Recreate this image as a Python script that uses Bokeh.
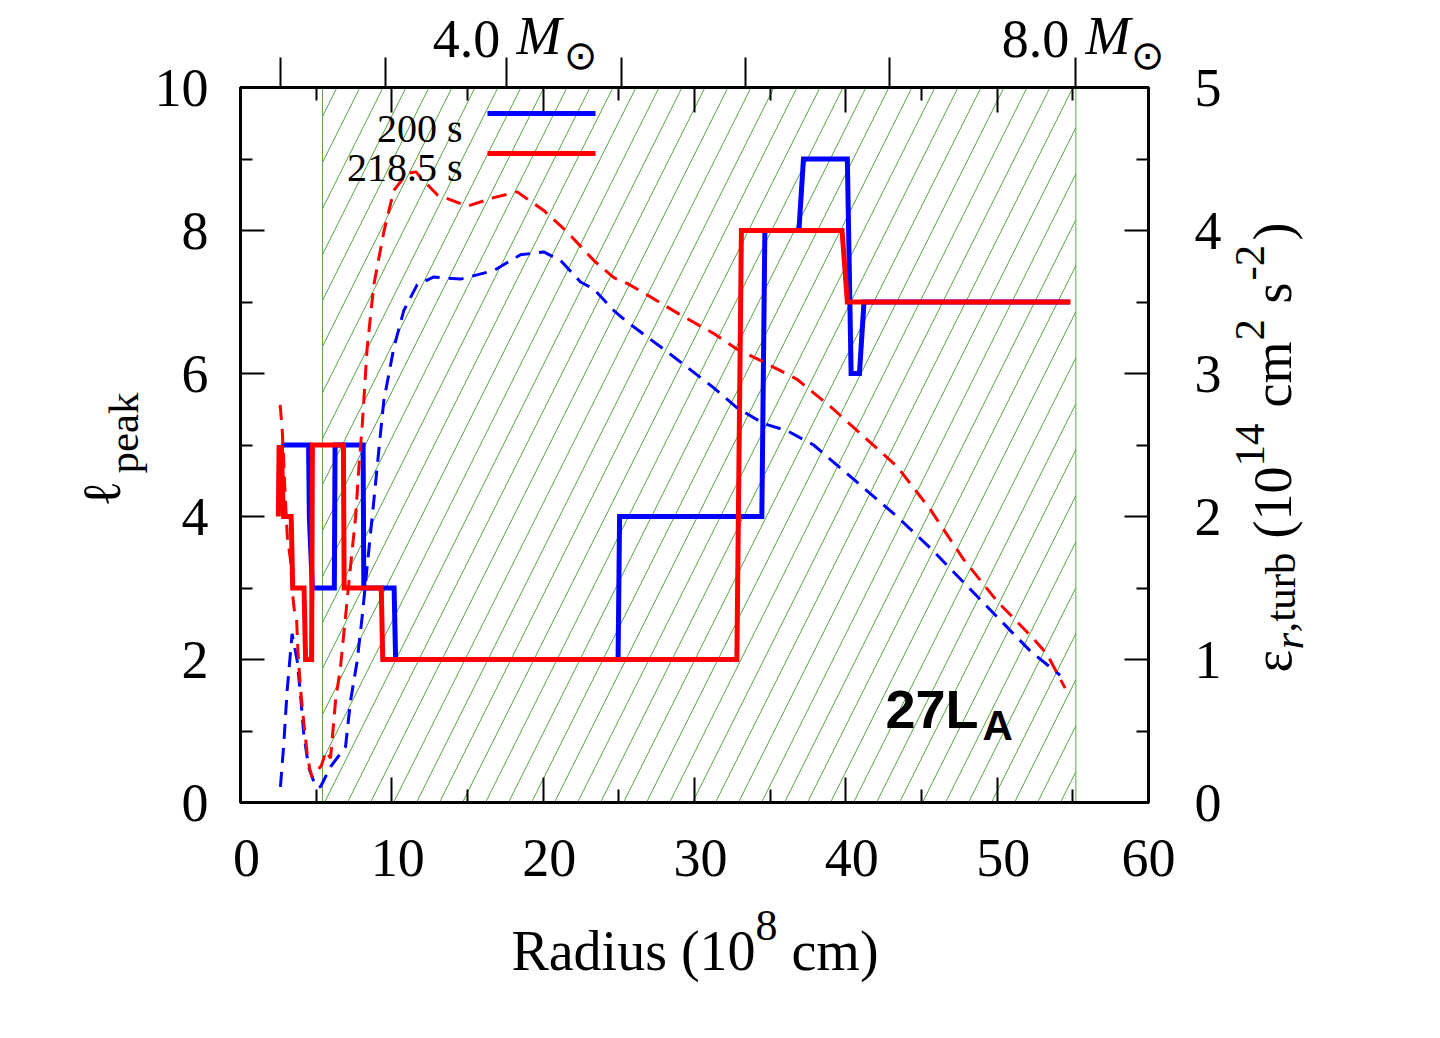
import math
from bokeh.plotting import figure
from bokeh.models import (Range1d, LinearAxis, FixedTicker, Label, Arrow,
                          CustomJSTickFormatter)
from bokeh.embed import file_html
from bokeh.resources import INLINE

# ---------------- data ----------------
# l_peak, 200 s (solid blue)
blue_r = [2.7, 4.5, 4.55, 4.75, 6.2, 6.25, 8.1, 8.15, 10.15, 10.25, 24.95, 25.05,
          34.45, 34.65, 36.9, 37.2, 40.1, 40.35, 40.9, 41.2, 54.8]
blue_l = [5, 5, 4, 3, 3, 5, 5, 3, 3, 2, 2, 4, 4, 8, 8, 9, 9, 6, 6, 7, 7]

# l_peak, 218.5 s (solid red)
red_r = [2.5, 2.55, 2.65, 2.7, 2.8, 2.85, 3.35, 3.45, 4.2, 4.3, 4.7, 4.75, 6.8, 6.85,
         9.3, 9.4, 32.8, 33.1, 39.75, 40.1, 54.85]
red_l = [4, 5, 4.4, 5, 4.2, 4, 4, 3, 3, 2, 2, 5, 5, 3, 3, 2, 2, 8, 8, 7, 7]

# eps_r,turb (10^14 cm^2 s^-2), 200 s (dashed blue)
blue_eps_r = [2.64, 2.86, 3.08, 3.41, 3.75, 3.96, 4.18, 4.5, 4.96, 5.29, 5.95, 6.94,
              7.27, 7.71, 8.04, 8.37, 8.81, 9.25, 9.47, 10.13, 10.79, 11.67, 12.78,
              14.54, 16.74, 18.5, 20.04, 21.15, 22.47, 23.35, 24.67, 25.55, 27.97,
              31.27, 32.81, 34.57, 36.11, 37.87, 39.85, 41.18, 43.38, 45.58, 47.78,
              49.98, 52.18, 54.16]
blue_eps = [0.11, 0.41, 0.78, 1.18, 0.99, 0.76, 0.48, 0.25, 0.11, 0.11, 0.25, 0.39,
            0.71, 0.99, 1.30, 1.65, 2.11, 2.58, 2.81, 3.18, 3.44, 3.62, 3.675,
            3.66, 3.72, 3.83, 3.85, 3.79, 3.64, 3.59, 3.44, 3.36, 3.17,
            2.90, 2.76, 2.65, 2.60, 2.50, 2.32, 2.20, 2.00, 1.78, 1.54,
            1.30, 1.06, 0.89]

# eps_r,turb, 218.5 s (dashed red)
red_eps_r = [2.62, 2.75, 2.85, 2.95, 3.1, 3.3, 3.45, 3.55, 3.7, 3.8, 3.96, 4.19, 4.41,
             4.6, 4.74, 5.07, 5.35, 5.65, 5.95, 6.28, 6.61, 6.94, 7.27, 7.6, 7.82,
             8.04, 8.37, 8.81, 9.47, 10.13, 11.01, 11.6, 11.9, 13.0, 14.98, 16.74,
             18.28, 20.04, 21.59, 23.35, 24.67, 25.55, 26.87, 29.07, 31.27, 32.81,
             34.57, 36.77, 38.97, 41.18, 43.38, 45.58, 47.78, 49.98, 52.18, 53.28, 54.49]
red_eps = [2.78, 2.62, 2.40, 2.15, 1.85, 1.70, 1.45, 1.35, 1.30, 1.05, 0.80, 0.55, 0.34,
           0.22, 0.18, 0.22, 0.26, 0.36, 0.31, 0.71, 0.95, 1.30, 1.65, 1.99, 2.34,
           2.63, 3.18, 3.62, 3.99, 4.28, 4.40, 4.41, 4.37, 4.25, 4.17, 4.23,
           4.27, 4.14, 3.99, 3.79, 3.67, 3.63, 3.55, 3.41, 3.28, 3.17,
           3.08, 2.96, 2.77, 2.56, 2.35, 2.05, 1.70, 1.41, 1.17, 1.04, 0.80]

# shaded (hatched) radius interval
shade_left = 5.42
shade_right = 55.2

# ticks
x_major = [0, 10, 20, 30, 40, 50, 60]
x_minor = [5, 15, 25, 35, 45, 55]
x_tick_text = ["0", "10", "20", "30", "40", "50", "60"]
yl_major = [0, 2, 4, 6, 8, 10]
yl_minor = [1, 3, 5, 7, 9]
yr_major = [0, 1, 2, 3, 4, 5]
yr_minor = [0.5, 1.5, 2.5, 3.5, 4.5]
# enclosed-mass ticks (2..8 Msun) at their radii
mass_tick_r = [2.62, 9.57, 17.57, 25.16, 33.36, 42.87, 55.18]
mass_tick_text = ["4.0", "8.0"]

legend_labels = ["200 s", "218.5 s"]
model_name = ("27L", "A")

BLUE = "#0000ff"
RED = "#ff0000"
GREEN = "#5aa845"
SERIF = "Liberation Serif"

# ---------------- figure ----------------
FL, FT, FW, FH = 240, 87, 908, 715
p = figure(frame_width=FW, frame_height=FH, x_range=Range1d(0, 60), y_range=Range1d(0, 10),
           output_backend="svg", toolbar_location=None,
           min_border_left=FL, min_border_right=272, min_border_top=FT, min_border_bottom=218)
p.extra_y_ranges = {"eps": Range1d(0, 5), "ty": Range1d(FT + FH, FT)}
p.extra_x_ranges = {"tx": Range1d(FL, FL + FW)}
p.xgrid.visible = False
p.ygrid.visible = False
p.outline_line_color = "black"
p.outline_line_width = 3
p.background_fill_color = "white"
p.border_fill_color = "white"


def px_x(px):
    return (px - FL) * 60.0 / FW


def px_y(py):
    return (FT + FH - py) * 10.0 / FH


def style_axis(ax, major_in, minor_in, font_size="54px", standoff=10):
    ax.major_tick_in = major_in
    ax.major_tick_out = 0
    ax.minor_tick_in = minor_in
    ax.minor_tick_out = 0
    ax.major_tick_line_width = 2
    ax.minor_tick_line_width = 2
    ax.major_tick_line_color = "black"
    ax.minor_tick_line_color = "black"
    ax.axis_line_width = 3
    ax.axis_line_color = "black"
    ax.major_label_text_font = SERIF
    ax.major_label_text_font_size = font_size
    ax.major_label_text_color = "black"
    ax.major_label_standoff = standoff


def blank(ax):
    ax.formatter = CustomJSTickFormatter(code="return '';")
    ax.major_label_text_font_size = "0px"
    ax.major_label_standoff = 0


xa = p.xaxis[0]
xa.ticker = FixedTicker(ticks=x_major, minor_ticks=x_minor)
style_axis(xa, 25, 13)
blank(xa)

ya = p.yaxis[0]
ya.ticker = FixedTicker(ticks=yl_major, minor_ticks=yl_minor)
style_axis(ya, 24, 12, standoff=32)

ra = LinearAxis(y_range_name="eps", ticker=FixedTicker(ticks=yr_major, minor_ticks=yr_minor))
style_axis(ra, 24, 12, standoff=46)
p.add_layout(ra, "right")

ta = LinearAxis(ticker=FixedTicker(ticks=x_major, minor_ticks=x_minor))
style_axis(ta, 25, 13)
blank(ta)
p.add_layout(ta, "above")

ma = LinearAxis(ticker=FixedTicker(ticks=mass_tick_r, minor_ticks=[]))
style_axis(ma, 0, 0)
blank(ma)
ma.major_tick_out = 30
ma.major_tick_in = 0
ma.axis_line_color = None
p.add_layout(ma, "above")


def carrier(side, texts, positions, size, font=SERIF, style="normal", standoff=0,
            orientation="horizontal"):
    """An axis with no line and no ticks whose tick labels are pieces of a title."""
    pairs = sorted(zip(positions, texts))
    ticks = [a for a, _ in pairs]
    labs = [b for _, b in pairs]
    if side in ("left", "right"):
        ax = LinearAxis(y_range_name="ty")
    else:
        ax = LinearAxis(x_range_name="tx")
    ax.ticker = FixedTicker(ticks=ticks, minor_ticks=[])
    ax.formatter = CustomJSTickFormatter(args=dict(labs=labs), code="return labs[index];")
    ax.axis_line_color = None
    ax.major_tick_line_color = None
    ax.minor_tick_line_color = None
    ax.major_tick_in = 0
    ax.major_tick_out = 0
    ax.minor_tick_in = 0
    ax.minor_tick_out = 0
    ax.major_label_text_font = font
    ax.major_label_text_font_size = size
    ax.major_label_text_font_style = style
    ax.major_label_text_color = "black"
    ax.major_label_standoff = standoff
    ax.major_label_orientation = orientation
    p.add_layout(ax, side)
    return ax


def xpix(v):
    return FL + v * FW / 60.0


# bottom: tick numbers (gnuplot draws them slightly right of the tick) and title
carrier("below", x_tick_text, [min(xpix(v) + 6, FL + FW) for v in x_major], "54px", standoff=37)
carrier("below", ["8"], [766], "44px", standoff=32)
carrier("below", ["Radius (10", "cm)"], [633, 834.5], "56px", standoff=-23)

# top: enclosed-mass labels "4.0 M_sun", "8.0 M_sun"
mt_px = [xpix(mass_tick_r[2]), xpix(mass_tick_r[6])]
carrier("above", ["\u2299", "\u2299"], [min(t + 74, FL + FW - 1) for t in mt_px], "40px",
        font="DejaVu Sans", standoff=-20)
carrier("above", mass_tick_text, [t - 40 for t in mt_px], "54px", standoff=-28)
carrier("above", ["M", "M"], [t + 32.5 for t in mt_px], "54px", style="italic", standoff=-48)

# left: l_peak
carrier("left", ["peak"], [432.5], "43px", standoff=5, orientation="parallel")
carrier("left", ["\u2113"], [493], "54px", standoff=-35, orientation="parallel")

# right: eps_{r,turb} (10^14 cm^2 s^-2), text reads upward
A = math.pi / 2
carrier("right", ["14", "2", "-2"], [466, 340, 280], "43px", standoff=25, orientation=A)
carrier("right", ["\u03b5", "(10", "cm", "s", ")"], [672, 538, 407, 303, 240], "54px",
        standoff=-8, orientation=A)
carrier("right", [",turb"], [632], "43px", standoff=-55, orientation=A)
carrier("right", ["r"], [649], "43px", style="italic", standoff=-47, orientation=A)

# hatched region
p.quad(left=[shade_left], right=[shade_right], bottom=[0], top=[10],
       fill_color=None, hatch_pattern="/", hatch_color=GREEN, hatch_scale=46,
       hatch_weight=1, line_color=GREEN, line_width=1)

# curves
p.line(blue_r, blue_l, line_color=BLUE, line_width=5, line_join="miter")
p.line(red_r, red_l, line_color=RED, line_width=5, line_join="miter")
p.line(blue_eps_r, blue_eps, y_range_name="eps", line_color=BLUE, line_width=3, line_dash="15 9")
p.line(red_eps_r, red_eps, y_range_name="eps", line_color=RED, line_width=3, line_dash="15 9")


def lab(text, px, py, size, font=SERIF, style="normal", align="left", baseline="alphabetic"):
    p.add_layout(Label(x=px_x(px), y=px_y(py), text=text, text_font=font,
                       text_font_size=size, text_font_style=style, text_align=align,
                       text_baseline=baseline, text_color="black"))


# legend
lab(legend_labels[0], 462, 128, "40px", align="right")
lab(legend_labels[1], 462, 167, "40px", align="right")
for yy, col in ((113, BLUE), (153, RED)):
    p.add_layout(Arrow(end=None, x_start=px_x(487), y_start=px_y(yy), x_end=px_x(595),
                       y_end=px_y(yy), line_color=col, line_width=5))

# model label
lab(model_name[0], 885, 708, "54px", font="Liberation Sans", style="bold")
lab(model_name[1], 982, 725, "42px", font="Liberation Sans", style="bold")

open("out.html", "w").write(file_html(p, INLINE))
